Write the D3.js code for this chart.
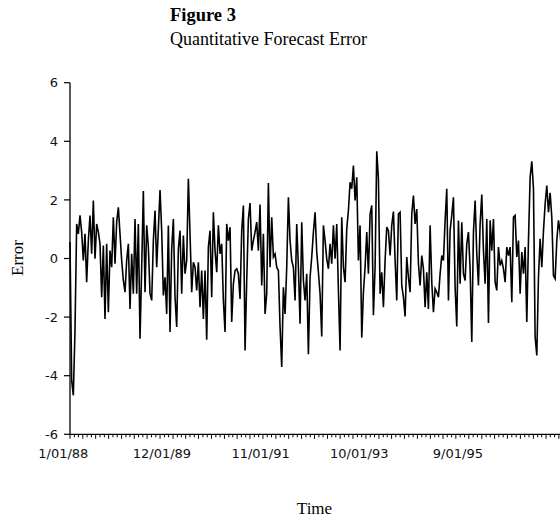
<!DOCTYPE html>
<html><head><meta charset="utf-8">
<script src="https://cdn.jsdelivr.net/npm/d3@7"></script>
<style>body{margin:0;background:#fff}svg{display:block}</style>
</head><body>
<script>
// ---- data ----
const titleText = "Figure 3";
const subtitleText = "Quantitative Forecast Error";
const yLabelText = "Error";
const xLabelText = "Time";
const startDate = new Date(1988, 0, 1);
const obsStepDays = 11.83;   // spacing of observations
const errorValues = [
 0.56,-4.16,-4.67,-2.45,1.18,0.84,1.47,0.90,-0.07,0.84,-0.81,0.61,1.47,0.16,1.98,-0.01,1.18,0.90,0.50,-1.32,
 0.44,-2.06,0.50,-1.83,0.27,-0.30,1.41,-0.18,1.24,1.75,0.84,-0.07,-0.75,-1.15,-0.07,0.50,-1.72,0.16,-1.20,1.35,
 -1.20,1.18,-2.74,-0.30,2.30,-1.15,1.13,0.39,-1.20,-1.43,0.61,1.64,-0.30,1.01,2.34,0.95,-1.26,-0.64,-1.89,1.13,
 -2.51,0.33,1.35,-1.32,-2.34,0.33,0.95,-1.20,0.78,-0.52,-0.07,2.72,0.84,-1.15,-0.13,-0.30,-1.09,-0.13,-1.66,-0.41,
 -2.06,-0.41,-2.77,0.39,0.95,-1.32,1.58,0.27,-0.47,1.13,0.16,0.50,-1.43,-2.51,1.18,0.61,
 1.07,-2.17,-0.86,-0.41,-0.35,-0.52,-1.38,0.95,1.81,-3.14,-0.75,1.35,1.89,0.27,0.61,0.90,1.24,0.27,1.84,-0.92,
 0.84,-1.89,-1.20,2.58,-0.30,1.41,0.05,0.16,-0.30,-0.41,-2.34,-3.70,-0.98,-1.89,-0.30,2.09,0.61,-0.07,-0.30,-1.43,
 1.18,-0.30,-2.23,1.24,-0.75,-1.43,-0.52,-3.27,-0.64,0.05,0.90,1.58,0.22,-0.47,-1.20,-2.66,1.13,0.61,-0.01,-0.35,
 0.50,-0.18,1.13,-0.01,1.18,-1.09,-3.14,1.41,-0.30,-0.81,1.01,1.64,2.60,2.38,3.17,1.98,2.77,-0.07,1.13,-2.70,
 -1.15,-0.30,0.90,-0.52,1.52,1.81,-1.94,-0.30,3.66,2.72,-1.20,-0.47,-1.66,-0.07,1.07,0.95,
 0.10,1.13,1.60,-0.07,-1.43,1.52,1.58,-0.92,-1.32,-1.98,0.05,-0.64,-1.15,1.52,2.15,1.18,1.69,-0.18,-0.92,0.10,
 -0.35,-1.66,-0.47,-1.72,1.13,-0.81,-1.83,-1.03,-1.15,-1.32,-0.52,0.10,-0.07,1.30,2.38,-1.43,0.95,1.47,2.09,-0.98,
 -2.32,1.30,-0.86,1.24,-0.52,-0.75,0.50,0.90,-0.35,-2.85,0.90,1.98,0.16,-0.92,1.18,2.18,0.27,-0.86,1.35,-2.20,
 1.30,0.27,1.35,-0.81,-1.09,0.39,-0.24,-0.07,-0.35,-0.81,0.39,0.10,0.39,-1.49,1.41,1.47,0.05,0.61,-1.20,0.22,
 -0.52,0.39,-2.17,0.61,2.77,3.32,2.38,-2.68,-3.31,-0.64,0.67,-0.30,0.95,1.86,2.49,1.58,2.24,1.41,-0.58,-0.69,
 0.61,1.30,0.90,0.05,-0.47
];
const yTicks = [-6, -4, -2, 0, 2, 4, 6];
const xTickLabels = ["1/01/88", "12/01/89", "11/01/91", "10/01/93", "9/01/95"];

// ---- chart ----
const W = 560, H = 524;
const svg = d3.select("body").append("svg").attr("width", W).attr("height", H);

const parseLbl = d3.timeParse("%m/%d/%y");
const x = d3.scaleTime()
  .domain([new Date(1988, 0, 1), new Date(1998, 0, 1)])
  .range([70, 70 + 120 * 4.29]);
const y = d3.scaleLinear().domain([-6, 6]).range([434.3, 82.7]);

const series = errorValues.map((v, i) => ({
  date: new Date(startDate.getTime() + i * obsStepDays * 864e5), v
}));

// line
svg.append("path")
  .datum(series)
  .attr("fill", "none")
  .attr("stroke", "#000")
  .attr("stroke-width", 1.6)
  .attr("stroke-linejoin", "miter")
  .attr("d", d3.line().x(d => x(d.date)).y(d => y(d.v)));

// y axis
const yAxis = svg.append("g").attr("transform", "translate(70,0)");
yAxis.append("line").attr("x1", 0).attr("x2", 0)
  .attr("y1", y(6)).attr("y2", y(-6)).attr("stroke", "#000").attr("stroke-width", 1.3);
yTicks.forEach(t => {
  yAxis.append("line").attr("x1", -6).attr("x2", 0)
    .attr("y1", y(t)).attr("y2", y(t)).attr("stroke", "#000").attr("stroke-width", 1.2);
  yAxis.append("text").attr("x", -12).attr("y", y(t)).attr("dy", "0.36em")
    .attr("text-anchor", "end")
    .attr("font-family", "DejaVu Sans, sans-serif").attr("font-size", 13)
    .attr("fill", "#111").text(t);
});

// x axis
const xAxis = svg.append("g").attr("transform", `translate(0,${y(-6)})`);
xAxis.append("line").attr("x1", 70).attr("x2", W + 10)
  .attr("y1", 0).attr("y2", 0).attr("stroke", "#000").attr("stroke-width", 1.3);
const months = d3.timeMonth.range(new Date(1988, 0, 1), new Date(1998, 0, 1));
months.forEach(m => {
  const quarter = m.getMonth() % 3 === 0;
  xAxis.append("line").attr("x1", x(m)).attr("x2", x(m))
    .attr("y1", 0).attr("y2", quarter ? 4.5 : 3).attr("stroke", "#000").attr("stroke-width", 1);
});
xTickLabels.forEach(l => {
  xAxis.append("text").attr("x", x(parseLbl(l)) - 6.7).attr("y", 24)
    .attr("text-anchor", "middle")
    .attr("font-family", "DejaVu Sans, sans-serif").attr("font-size", 13)
    .attr("fill", "#111").text(l);
});

// titles
svg.append("text").attr("x", 170).attr("y", 21)
  .attr("font-family", "Liberation Serif, Times New Roman, serif")
  .attr("font-weight", "bold").attr("font-size", 18.5).attr("fill", "#000").text(titleText);
svg.append("text").attr("x", 170).attr("y", 45)
  .attr("font-family", "Liberation Serif, Times New Roman, serif")
  .attr("font-size", 18).attr("fill", "#000").text(subtitleText);

svg.append("text")
  .attr("transform", "translate(23,258) rotate(-90)")
  .attr("text-anchor", "middle")
  .attr("font-family", "Liberation Serif, Times New Roman, serif")
  .attr("font-size", 17).attr("fill", "#000").text(yLabelText);
svg.append("text").attr("x", 314.5).attr("y", 514)
  .attr("text-anchor", "middle")
  .attr("font-family", "Liberation Serif, Times New Roman, serif")
  .attr("font-size", 17).attr("fill", "#000").text(xLabelText);
</script>
</body></html>
